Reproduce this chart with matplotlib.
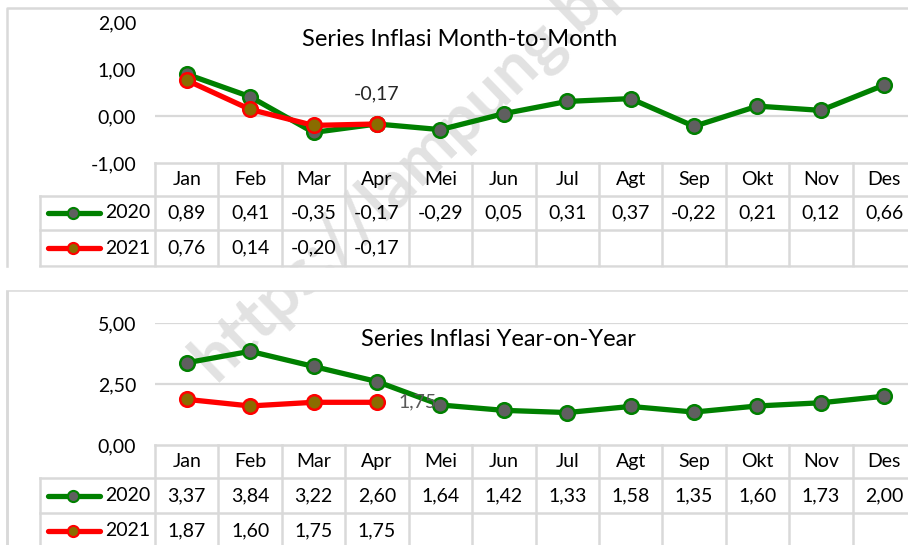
import matplotlib
matplotlib.use("Agg")
import matplotlib.pyplot as plt
import matplotlib.transforms as mtransforms
from matplotlib.ticker import FixedLocator, FuncFormatter

# ---------------- data ----------------
months = ["Jan", "Feb", "Mar", "Apr", "Mei", "Jun", "Jul", "Agt", "Sep", "Okt", "Nov", "Des"]
mtm_2020 = [0.89, 0.41, -0.35, -0.17, -0.29, 0.05, 0.31, 0.37, -0.22, 0.21, 0.12, 0.66]
mtm_2021 = [0.76, 0.14, -0.20, -0.17]
yoy_2020 = [3.37, 3.84, 3.22, 2.60, 1.64, 1.42, 1.33, 1.58, 1.35, 1.60, 1.73, 2.00]
yoy_2021 = [1.87, 1.60, 1.75, 1.75]
mtm_ticks = [-1.0, 0.0, 1.0, 2.0]
yoy_ticks = [0.0, 2.5, 5.0]
title_mtm = "Series Inflasi Month-to-Month"
title_yoy = "Series Inflasi Year-on-Year"
series_names = ["2020", "2021"]
watermark = "https://lampung.bps.go.id"

# ---------------- style ----------------
FONT = ["Lato", "DejaVu Sans"]
plt.rcParams["font.family"] = FONT
GREEN = "#008000"
RED = "#ff0000"
GRAYFACE = "#5f5f5f"
OLIVE = "#8a6c00"
GRID = "#d9d9d9"
TXT = "#000000"
FS = 14

W, H = 908, 545
fig = plt.figure(figsize=(W / 100, H / 100), dpi=100)
ov = fig.add_axes([0, 0, 1, 1], zorder=0)
ov.set_xlim(0, W)
ov.set_ylim(H, 0)
ov.axis("off")


def px_axes(x0, x1, ytop, ybot):
    return fig.add_axes([x0 / W, (H - ybot) / H, (x1 - x0) / W, (ybot - ytop) / H], zorder=2)


fmt = FuncFormatter(lambda v, p: f"{v:.2f}".replace(".", ","))
ncol = len(months)
PLOT_X0, PLOT_X1 = 155, 916


def panel(ax, ylo, yhi, ticks, s20, s21, title, title_xy, gridvals, rows_y, box_top, label_cfg):
    ax.set_xlim(-0.5, ncol - 0.5)
    ax.set_ylim(ylo, yhi)
    ax.patch.set_alpha(0)
    for s in ax.spines.values():
        s.set_visible(False)
    ax.xaxis.set_visible(False)
    ax.yaxis.set_major_locator(FixedLocator(ticks))
    ax.yaxis.set_major_formatter(fmt)
    ax.tick_params(axis="y", length=0, pad=13.5, labelsize=FS, labelcolor=TXT)
    for g in gridvals:
        ax.axhline(g, color=GRID, lw=1.6, zorder=1)
    x = list(range(ncol))
    ax.plot(x, s20, color=GREEN, lw=3.8, marker="o", ms=10.5, mfc=GRAYFACE,
            mec=GREEN, mew=1.8, zorder=3, clip_on=False, solid_capstyle="round")
    ax.plot(x[:len(s21)], s21, color=RED, lw=3.8, marker="o", ms=10.5, mfc=OLIVE,
            mec=RED, mew=1.8, zorder=4, clip_on=False, solid_capstyle="round")
    # data label
    idx, val, off, col, ha = label_cfg
    ax.annotate(fmt(val, None), (idx, val), xytext=off, textcoords="offset points",
                ha=ha, va="center", fontsize=FS, color=col, zorder=5)
    ov.text(title_xy[0], title_xy[1], title, ha="center", va="center", fontsize=17, color=TXT)

    # ---- table ----
    bt = mtransforms.blended_transform_factory(ax.transData, ov.transData)
    hdr_top, r1, r2, r3 = rows_y
    edges = [i - 0.5 for i in range(ncol + 1)]
    lw = 1.8
    ov.plot([PLOT_X0, PLOT_X1], [hdr_top, hdr_top], color=GRID, lw=lw, zorder=1)
    for yy in (r1, r2, r3):
        ov.plot([40, PLOT_X1], [yy, yy], color=GRID, lw=lw, zorder=1)
    for e in edges:
        ov.plot([e, e], [hdr_top, r3], color=GRID, lw=lw, transform=bt, zorder=1)
    ov.plot([40, 40], [r1, r3], color=GRID, lw=lw, zorder=1)
    ymid = [(hdr_top + r1) / 2, (r1 + r2) / 2, (r2 + r3) / 2]
    for i, m in enumerate(months):
        ov.text(i, ymid[0], m, transform=bt, ha="center", va="center", fontsize=FS, color=TXT)
    for i, v in enumerate(s20):
        ov.text(i, ymid[1], fmt(v, None), transform=bt, ha="center", va="center", fontsize=FS, color=TXT)
    for i, v in enumerate(s21):
        ov.text(i, ymid[2], fmt(v, None), transform=bt, ha="center", va="center", fontsize=FS, color=TXT)
    for yy, col, face, name in ((ymid[1], GREEN, GRAYFACE, series_names[0]),
                                (ymid[2], RED, OLIVE, series_names[1])):
        ov.plot([48, 100], [yy, yy], color=col, lw=3.8, solid_capstyle="round", zorder=3)
        ov.plot([73], [yy], marker="o", ms=8, mfc=face, mec=col, mew=1.5, zorder=4)
        ov.text(105, yy, name, ha="left", va="center", fontsize=FS, color=TXT)
    ov.plot([7, 7, W + 5], [box_top + 600, box_top, box_top], color=GRID, lw=1.8, zorder=1)


# top panel
ax1 = px_axes(PLOT_X0, PLOT_X1, 22, 163)
panel(ax1, -1.0, 2.0, mtm_ticks, mtm_2020, mtm_2021, title_mtm, (460, 39), [0.0],
      (163, 196, 230, 266), 8, (3, mtm_2021[3], (0, 22), "#262626", "center"))

# bottom panel
ax2 = px_axes(PLOT_X0, PLOT_X1, 323, 445)
panel(ax2, 0.0, 5.0, yoy_ticks, yoy_2020, yoy_2021, title_yoy, (498, 340), [2.5, 5.0],
      (445, 478, 513, 548), 290, (3, yoy_2021[3], (29, 0), "#595959", "center"))

# gap between the two panels
ov.fill_between([0, W], [267.5, 267.5], [288.5, 288.5], color="white", zorder=1.5)

# watermark
ov.text(216, 382, watermark, rotation=44, rotation_mode="anchor", ha="left", va="baseline",
        fontsize=48, fontweight="bold", color="#e2e2e2", zorder=0.5)

fig.savefig("out.png", dpi=100)
